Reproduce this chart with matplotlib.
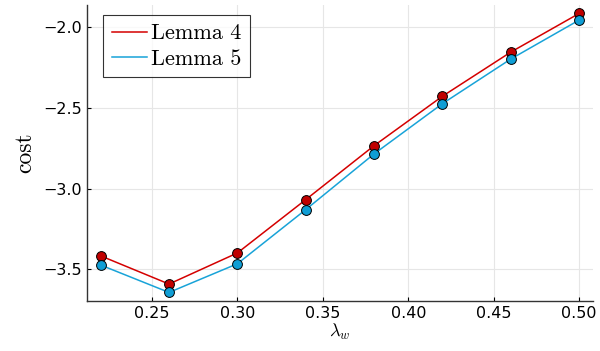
import matplotlib.pyplot as plt

lam = [0.22, 0.26, 0.30, 0.34, 0.38, 0.42, 0.46, 0.50]
lemma4 = [-3.418, -3.593, -3.400, -3.069, -2.734, -2.427, -2.153, -1.913]
lemma5 = [-3.475, -3.645, -3.467, -3.131, -2.785, -2.473, -2.196, -1.954]

plt.rcParams['mathtext.fontset'] = 'cm'
fig = plt.figure(figsize=(6, 3.51), dpi=100)
ax = fig.add_axes([0.145, 0.143, 0.843, 0.843])

ax.plot(lam, lemma4, color='#d40000', lw=1.1, label='Lemma 4', zorder=3)
ax.plot(lam, lemma5, color='#18a3d8', lw=1.1, label='Lemma 5', zorder=3)
ax.scatter(lam, lemma4, s=50, color='#c00000', edgecolors='black', linewidths=0.7, zorder=4)
ax.scatter(lam, lemma5, s=50, color='#0f9ed5', edgecolors='black', linewidths=0.7, zorder=4)

ax.set_xlim(0.212, 0.508)
ax.set_ylim(-3.697, -1.86)
ax.set_xticks([0.25, 0.30, 0.35, 0.40, 0.45, 0.50])
ax.set_xticklabels(['0.25', '0.30', '0.35', '0.40', '0.45', '0.50'])
ax.set_yticks([-3.5, -3.0, -2.5, -2.0])
ax.set_yticklabels(['\u22123.5', '\u22123.0', '\u22122.5', '\u22122.0'])
ax.tick_params(direction='in', length=3, width=0.8, labelsize=11.5, colors='black')
ax.grid(True, color='#e6e6e6', lw=0.8)
ax.set_axisbelow(True)
for s in ['top', 'right']:
    ax.spines[s].set_visible(False)
for s in ['left', 'bottom']:
    ax.spines[s].set_color('#333333')
    ax.spines[s].set_linewidth(1.0)

ax.set_xlabel(r'$\lambda_w$', fontsize=13, labelpad=1)
ax.set_ylabel('cost', fontsize=17, fontfamily='cmr10', labelpad=5)

leg = ax.legend(loc='upper left', prop={'family': 'cmr10', 'size': 16}, frameon=True,
                fancybox=False, edgecolor='black', handlelength=1.55, handletextpad=0.2,
                borderpad=0.4, labelspacing=0.25, borderaxespad=0, bbox_to_anchor=(0.032, 0.966))
leg.get_frame().set_linewidth(0.8)

fig.savefig('out.png', dpi=100)
